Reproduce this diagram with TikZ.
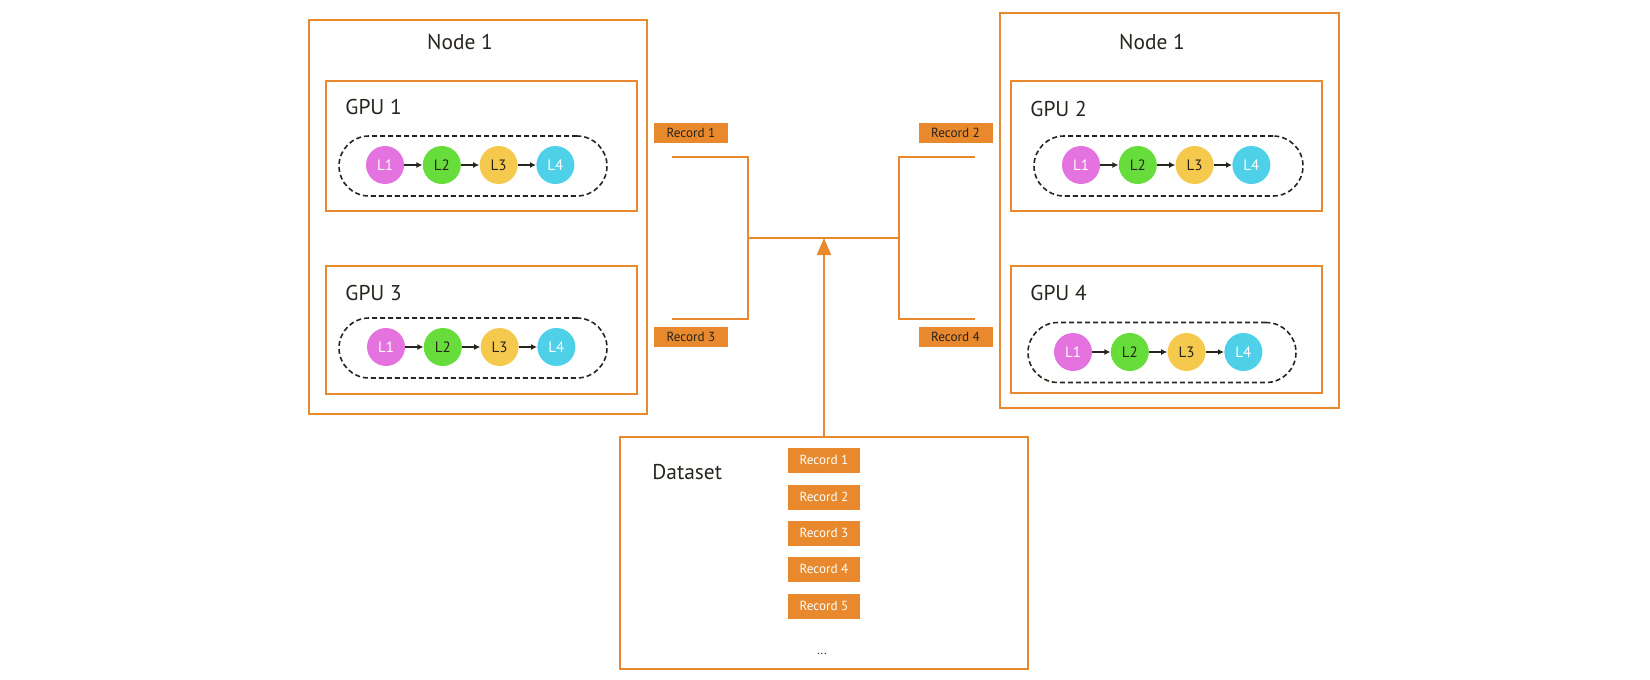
\documentclass[tikz,border=0pt]{standalone}
\usepackage{fontspec}
\setmainfont{PT Sans}
\usetikzlibrary{arrows.meta,positioning}

\definecolor{boxorange}{RGB}{232,137,46}
\definecolor{inkdark}{RGB}{40,36,30}
\definecolor{lone}{RGB}{228,115,224}
\definecolor{ltwo}{RGB}{102,221,58}
\definecolor{lthree}{RGB}{244,201,78}
\definecolor{lfour}{RGB}{77,208,232}

\tikzset{
  frame/.style={draw=boxorange,line width=1pt,inner sep=0pt},
  pill/.style={draw=inkdark,dashed,dash pattern=on 2.5pt off 1.5pt,line width=0.8pt,
    rounded corners=15pt,minimum height=30pt,inner sep=0pt},
  layer/.style={circle,minimum size=19pt,inner sep=0pt,font=\fontsize{7.5}{8}\selectfont,text=inkdark},
  tag/.style={fill=boxorange,minimum width=37pt,minimum height=10pt,inner sep=0pt,
    font=\fontsize{6.6}{7}\selectfont,text=inkdark},
  rec/.style={fill=boxorange,minimum width=36pt,minimum height=12.5pt,inner sep=0pt,
    font=\fontsize{6.6}{7}\selectfont,text=white},
  title/.style={font=\fontsize{10.7}{12}\selectfont,text=inkdark,inner sep=0pt},
  flow/.style={draw=inkdark,line width=0.6pt,-{Latex[length=3pt,width=3pt]}},
  wire/.style={draw=boxorange,line width=1pt},
}

% four layers on one gpu
\newcommand\layers[3]{%
  \node[layer,fill=lone,text=white] (#1a) at (#2,#3) {L1};
  \node[layer,fill=ltwo,right=of #1a] (#1b) {L2};
  \node[layer,fill=lthree,right=of #1b] (#1c) {L3};
  \node[layer,fill=lfour,text=white,right=of #1c] (#1d) {L4};
  \draw[flow] (#1a) -- (#1b);
  \draw[flow] (#1b) -- (#1c);
  \draw[flow] (#1c) -- (#1d);
}

\begin{document}
\begin{tikzpicture}[x=0.5pt,y=-0.5pt,node distance=9pt]
\useasboundingbox (0,0) rectangle (1650,680);

% hosts
\node[frame,minimum width=169pt,minimum height=197pt] (host1) at (478,217) {};
\node[frame,minimum width=169.5pt,minimum height=197.5pt] (host2) at (1169.5,210.5) {};
\node[title] (host1t) at (460,42) {Node 1};
\node[title] (host2t) at (1152,42) {Node 1};

% gpus
\node[frame,minimum width=155.5pt,minimum height=65pt] (gpu1) at (481.5,146) {};
\node[frame,minimum width=155.5pt,minimum height=64pt] (gpu3) at (481.5,330) {};
\node[frame,minimum width=155.5pt,minimum height=65pt] (gpu2) at (1166.5,146) {};
\node[frame,minimum width=155.5pt,minimum height=63.5pt] (gpu4) at (1166.5,329.5) {};
\node[title,anchor=west] (gpu1t) at (345,107) {GPU 1};
\node[title,anchor=west] (gpu3t) at (345,293) {GPU 3};
\node[title,anchor=west] (gpu2t) at (1030,109) {GPU 2};
\node[title,anchor=west] (gpu4t) at (1030,293) {GPU 4};

\node[pill,minimum width=134pt] (pill1) at (473,166) {};
\node[pill,minimum width=134pt] (pill3) at (473,348) {};
\node[pill,minimum width=134.5pt] (pill2) at (1168.5,166) {};
\node[pill,minimum width=134pt] (pill4) at (1162,352.5) {};

\layers{ga}{385}{165}
\layers{gc}{386}{347}
\layers{gb}{1081}{165}
\layers{gd}{1073}{352}

% records sent to each gpu
\node[tag] (tag1) at (691,133) {Record 1};
\node[tag] (tag2) at (955.5,133) {Record 2};
\node[tag] (tag3) at (691,337) {Record 3};
\node[tag] (tag4) at (955.5,337) {Record 4};

\coordinate (in1) at (672,157);
\coordinate (in3) at (672,319);
\coordinate (in2) at (975,157);
\coordinate (in4) at (975,319);
\coordinate (hubl) at (748,238);
\coordinate (hubr) at (899,238);
\draw[wire] (in1) -| (hubl) |- (in3);
\draw[wire] (in2) -| (hubr) |- (in4);
\draw[wire] (hubl) -- (hubr);

% dataset
\node[frame,minimum width=204pt,minimum height=116pt] (data) at (824,553) {};
\node[title,anchor=west] (datat) at (652,472) {Dataset};
\foreach \i/\y in {1/460,2/497,3/533,4/569,5/606}
  \node[rec] (rec\i) at (824,\y) {Record \i};
\node[font=\fontsize{6}{7}\selectfont,text=inkdark,inner sep=0pt] (more) at (822,654) {...};

\draw[wire,-{Triangle[length=8.5pt,width=7pt]}] (data.north) -- (data.north |- hubl);
\end{tikzpicture}
\end{document}
